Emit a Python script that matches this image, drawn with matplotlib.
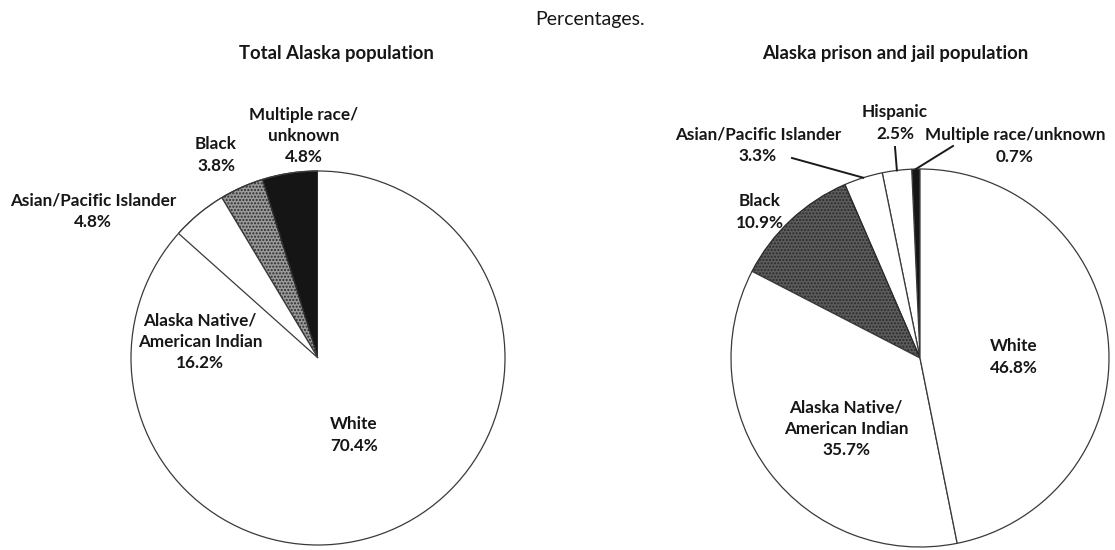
import numpy as np
import matplotlib.pyplot as plt

plt.rcParams['font.family'] = ['Lato', 'DejaVu Sans']

W, H = 1115, 550

# Total Alaska population, wedges counterclockwise from 12 o'clock
state_groups = ['Multiple race/\nunknown', 'Black', 'Asian/Pacific Islander',
                'Alaska Native/\nAmerican Indian', 'White']
state_pct = [4.8, 3.8, 4.8, 16.2, 70.4]

# Alaska prison and jail population
prison_groups = ['Multiple race/unknown', 'Hispanic', 'Asian/Pacific Islander',
                 'Black', 'Alaska Native/\nAmerican Indian', 'White']
prison_pct = [0.7, 2.5, 3.3, 10.9, 35.7, 46.8]

# colours per group
fills = {'Multiple race/\nunknown': '#151515', 'Multiple race/unknown': '#151515',
         'Black': None, 'Hispanic': 'white', 'Asian/Pacific Islander': 'white',
         'Alaska Native/\nAmerican Indian': 'white', 'White': 'white'}

# label centres in pixels (x from left, y from top)
state_label_pos = [(304, 136), (216, 155), (93, 211), (200, 342), (354, 435)]
prison_label_pos = [(1015, 146), (895, 123), (758, 145), (760, 212), (846, 429), (1014, 357)]

fig = plt.figure(figsize=(W / 100, H / 100), dpi=100)
ax = fig.add_axes([0, 0, 1, 1])

txt = dict(fontsize=12.3, fontweight='bold', ha='center', va='center',
           linespacing=1.4, color='#161616')


def draw_pie(cx, cy, r, groups, pct, black_grey):
    wedges, _ = ax.pie(pct, center=(cx, H - cy), radius=r, startangle=90,
                       counterclock=True,
                       wedgeprops=dict(linewidth=0.9, edgecolor='#3a3a3a'))
    for w, g in zip(wedges, groups):
        if g == 'Black':
            w.set_facecolor(black_grey)
            w.set_edgecolor('#2a2a2a')
            w.set_hatch('.....')
        else:
            w.set_facecolor(fills[g])
    return wedges


def mid_point(cx, cy, r, pct, i):
    # point on the rim at the middle of wedge i
    start = 90 + 3.6 * sum(pct[:i])
    ang = np.deg2rad(start + 1.8 * pct[i])
    return cx + r * np.cos(ang), H - cy + r * np.sin(ang)


# left pie
lw = draw_pie(318, 358, 187, state_groups, state_pct, '#9a9a9a')
# no radial line between the Alaska Native and White wedges here
for w, g in zip(lw, state_groups):
    if g in ('Alaska Native/\nAmerican Indian', 'White'):
        w.set_edgecolor('none')
ax.add_patch(plt.Circle((318, H - 358), 187, fill=False, lw=0.9, ec='#3a3a3a'))
lw[2].set_zorder(3)

for g, v, (x, y) in zip(state_groups, state_pct, state_label_pos):
    ax.text(x, H - y, f'{g}\n{v:.1f}%', **txt)

# right pie
draw_pie(920, 358, 189, prison_groups, prison_pct, '#5c5c5c')

for g, v, (x, y) in zip(prison_groups, prison_pct, prison_label_pos):
    ax.text(x, H - y, f'{g}\n{v:.1f}%', **txt)

# leader lines for the thin wedges
leader_starts = {0: (953, 146), 1: (895, 147), 2: (792, 158)}
for i, (sx, sy) in leader_starts.items():
    ex, ey = mid_point(920, 358, 189, prison_pct, i)
    ax.plot([sx, ex], [H - sy, ey], color='#1a1a1a', lw=1.4)

# headings
ax.text(590, H - 20, 'Percentages.', fontsize=14, ha='center', va='center', color='#161616')
ax.text(336, H - 53, 'Total Alaska population', fontsize=13.3, fontweight='bold',
        ha='center', va='center', color='#161616')
ax.text(895, H - 53, 'Alaska prison and jail population', fontsize=13.3, fontweight='bold',
        ha='center', va='center', color='#161616')

ax.set_xlim(0, W)
ax.set_ylim(0, H)
ax.set_aspect('auto')
ax.axis('off')

plt.savefig('out.png', dpi=100)
